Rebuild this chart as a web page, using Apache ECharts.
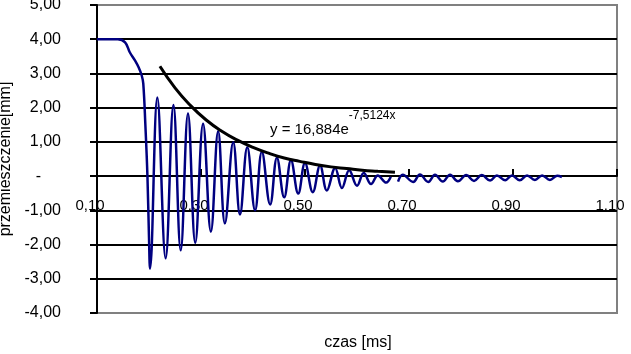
<!DOCTYPE html>
<html>
<head>
<meta charset="utf-8">
<script src="https://cdn.jsdelivr.net/npm/echarts@6/dist/echarts.min.js"></script>
<style>
  html, body { margin: 0; padding: 0; background: #fff; }
  #main { width: 631px; height: 354px; }
</style>
</head>
<body>
<div id="main"></div>
<script>
// przebieg drgań (czas [ms], przemieszczenie [mm]) - null = przerwa w danych
var sigX = [0.100, 0.140, 0.154, 0.163, 0.173, 0.180, 0.186, 0.189, 0.193, 0.197, 0.200, 0.202,
    0.216, 0.232, 0.247, 0.261, 0.275, 0.289, 0.304, 0.319, 0.333, 0.346, 0.362, 0.375,
    0.389, 0.404, 0.417, 0.433, 0.446, 0.460, 0.473, 0.487, 0.500, 0.515, 0.529, 0.542,
    0.558, 0.571, 0.585, 0.600, 0.613, 0.627, 0.640, 0.656, 0.665, 0.672,
    0.679, 0.688, 0.708, 0.721, 0.737, 0.750, 0.765, 0.779, 0.794, 0.810, 0.825, 0.840,
    0.856, 0.869, 0.885, 0.898, 0.913, 0.927, 0.942, 0.956, 0.971, 0.985, 0.994];
var sigY = [4.00, 4.00, 3.91, 3.62, 3.38, 3.18, 2.94, 2.70, 1.50, 0.00, -1.80, -2.70,
    2.30, -2.40, 2.08, -2.17, 1.83, -1.95, 1.53, -1.62, 1.31, -1.38, 0.99, -1.12,
    0.84, -1.00, 0.71, -0.83, 0.54, -0.62, 0.46, -0.51, 0.38, -0.47, 0.31, -0.42,
    0.24, -0.35, 0.17, -0.28, 0.09, -0.23, 0.02, -0.19, -0.02, null,
    -0.16, 0.04, -0.17, 0.05, -0.17, 0.04, -0.16, 0.04, -0.15, 0.03, -0.14, 0.03,
    -0.13, 0.02, -0.12, 0.02, -0.12, 0.02, -0.11, 0.02, -0.11, 0.01, -0.03];

// linia trendu (wykładnicza)
var trendX = [0.221, 0.250, 0.280, 0.310, 0.340, 0.370, 0.400, 0.430, 0.460, 0.490, 0.520, 0.550, 0.580, 0.610, 0.640, 0.673];
var trendY = [3.21, 2.58, 2.06, 1.64, 1.31, 1.05, 0.84, 0.67, 0.53, 0.43, 0.34, 0.27, 0.22, 0.17, 0.14, 0.11];

// etykiety osi
var xTickLabels = ['0,10', '0,30', '0,50', '0,70', '0,90', '1,10'];
var yTickLabels = ['-4,00', '-3,00', '-2,00', '-1,00', '{z|-}', '1,00', '2,00', '3,00', '4,00', '5,00'];

function zip(xs, ys) {
    var out = [];
    for (var i = 0; i < xs.length; i++) {
        out.push([xs[i], ys[i]]);
    }
    return out;
}

var font = 'Liberation Sans';
var myChart = echarts.init(document.getElementById('main'));

var option = {
    animation: false,
    textStyle: { fontFamily: font },
    grid: {
        left: 97, right: 14, top: 5, bottom: 41,
        show: true,
        borderColor: '#808080',
        borderWidth: 2,
        outerBoundsMode: 'none'
    },
    xAxis: {
        type: 'value',
        min: 0.1,
        max: 1.1,
        interval: 0.2,
        // oś przesunięta do poziomu zera (tak jak w Excelu)
        offset: -137,
        z: 0,
        axisLine: { onZero: false, lineStyle: { color: '#000', width: 2 } },
        axisTick: { inside: true, length: 7, lineStyle: { color: '#000', width: 2 } },
        splitLine: { show: false },
        axisLabel: {
            margin: 22,
            color: '#000',
            fontSize: 15,
            fontFamily: font,
            padding: [0, 14, 0, 0],
            showMinLabel: true,
            showMaxLabel: true,
            formatter: function (v, i) { return xTickLabels[i]; }
        }
    },
    yAxis: {
        type: 'value',
        min: -4,
        max: 5,
        interval: 1,
        name: 'przemieszczenie[mm]',
        nameLocation: 'middle',
        nameGap: 72,
        nameTextStyle: { color: '#000', fontSize: 16, fontFamily: font },
        axisLine: { show: true, onZero: false, lineStyle: { color: '#000', width: 2 } },
        axisTick: { show: true, length: 7, lineStyle: { color: '#000', width: 2 } },
        axisLabel: {
            margin: 36,
            color: '#000',
            fontSize: 16,
            fontFamily: font,
            formatter: function (v, i) { return yTickLabels[i]; },
            rich: { z: { fontSize: 16, fontFamily: font, color: '#000', padding: [0, 20, 0, 0] } }
        },
        splitLine: {
            show: true,
            lineStyle: {
                width: 2,
                color: ['#808080', '#000', '#000', '#000', '#000', '#000', '#000', '#000', '#000', '#808080']
            }
        }
    },
    graphic: [
        {
            type: 'text',
            x: 270,
            y: 110,
            style: {
                text: '{a|y = 16,884e}{b|-7,5124x}',
                rich: {
                    a: { fontSize: 15, fontFamily: font, fill: '#000', lineHeight: 27, verticalAlign: 'bottom' },
                    b: { fontSize: 12, fontFamily: font, fill: '#000', lineHeight: 27, verticalAlign: 'top' }
                }
            }
        },
        {
            type: 'text',
            style: {
                x: 358, y: 343,
                text: 'czas [ms]',
                fontSize: 16,
                fontFamily: font,
                fill: '#000',
                align: 'center',
                verticalAlign: 'middle'
            }
        }
    ],
    series: [
        {
            name: 'przemieszczenie',
            type: 'line',
            data: zip(sigX, sigY),
            showSymbol: false,
            smooth: 0.4,
            connectNulls: false,
            lineStyle: { color: '#000080', width: 2.5 },
            z: 3
        },
        {
            name: 'trend',
            type: 'line',
            data: zip(trendX, trendY),
            showSymbol: false,
            smooth: true,
            lineStyle: { color: '#000', width: 3 },
            z: 4
        }
    ]
};

myChart.setOption(option);
</script>
</body>
</html>
